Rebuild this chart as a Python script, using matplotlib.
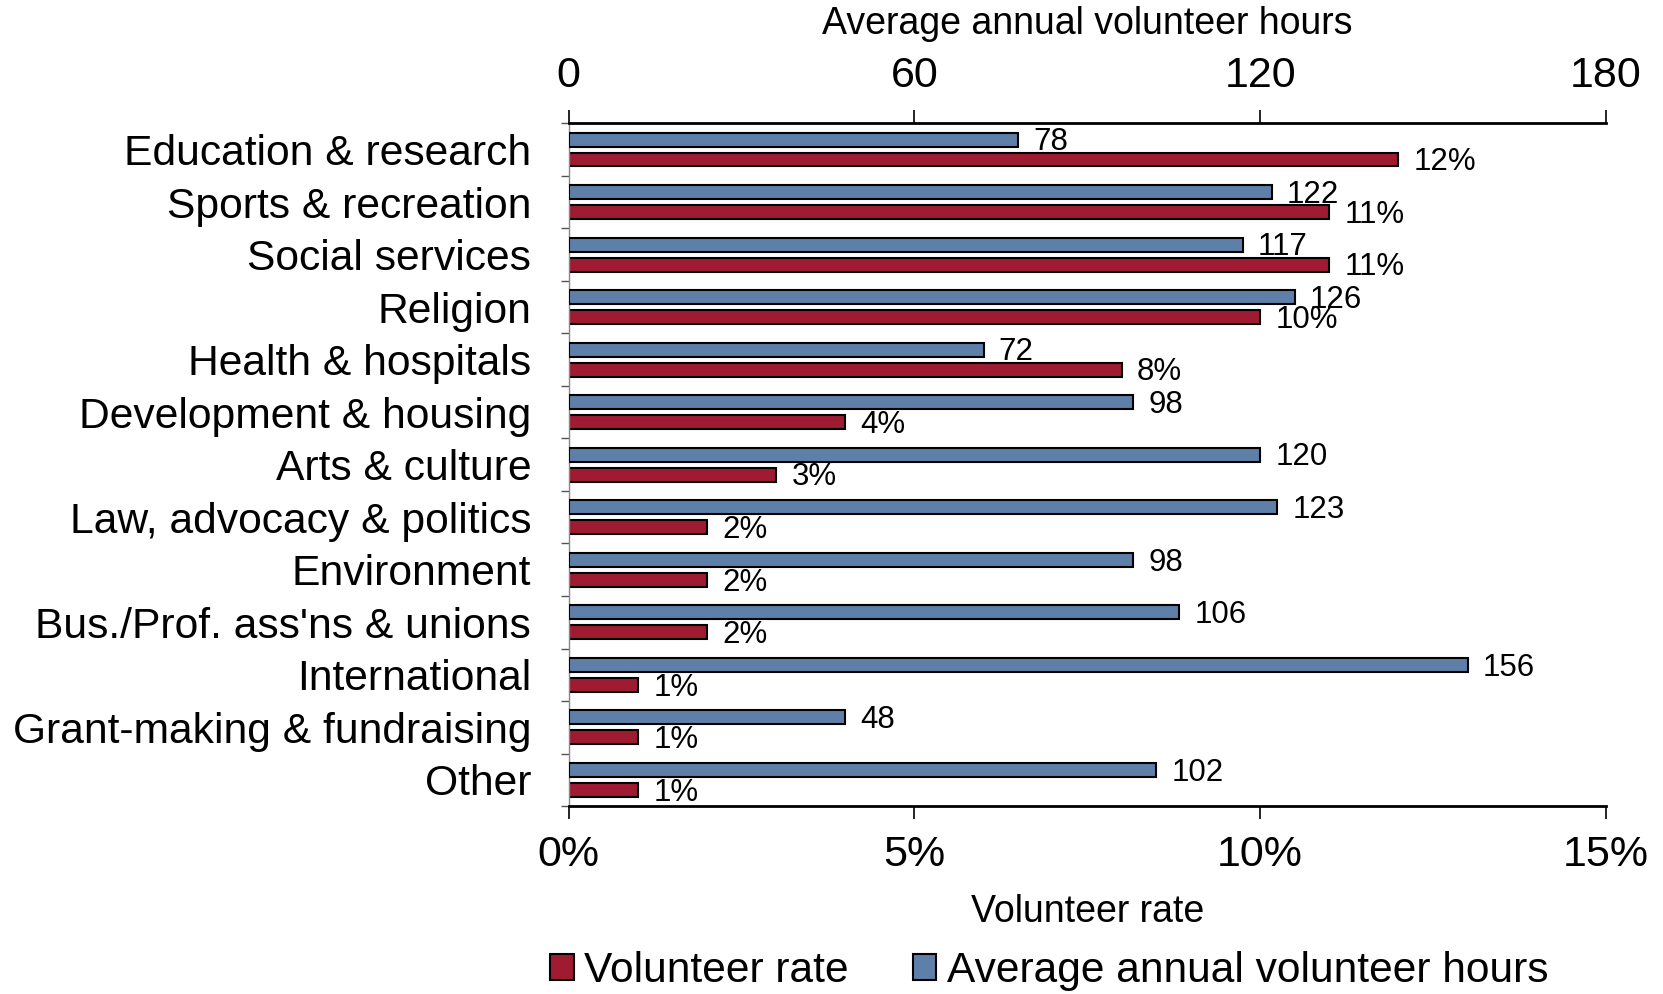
import numpy as np
import matplotlib
matplotlib.use('Agg')
import matplotlib.pyplot as plt
from matplotlib.ticker import FixedLocator

plt.rcParams['font.family'] = ['Liberation Sans', 'DejaVu Sans']

# Data
categories = ['Education & research', 'Sports & recreation', 'Social services',
              'Religion', 'Health & hospitals', 'Development & housing',
              'Arts & culture', 'Law, advocacy & politics', 'Environment',
              "Bus./Prof. ass'ns & unions", 'International',
              'Grant-making & fundraising', 'Other']
rate = [12, 11, 11, 10, 8, 4, 3, 2, 2, 2, 1, 1, 1]
hours = [78, 122, 117, 126, 72, 98, 120, 123, 98, 106, 156, 48, 102]

red = '#9e1b32'
blue = '#5e7fa8'

fig = plt.figure(figsize=(16.63, 9.94), dpi=100)
ax = fig.add_axes([0.342, 0.189, 0.6236, 0.687])
ax2 = ax.twiny()

y = np.arange(len(categories))
h = 0.266
off = 0.19

# volunteer rate on bottom axis
ax.barh(y + off, rate, height=h, color=red, edgecolor='black', linewidth=1.5,
        label='Volunteer rate')
# hours on top axis
ax2.barh(y - off, hours, height=h, color=blue, edgecolor='black', linewidth=1.5,
         label='Average annual volunteer hours')

for yi, v in zip(y, rate):
    ax.annotate(f'{v}%', xy=(v, yi + off), xytext=(11, -2), textcoords='offset points',
                va='center', ha='left', fontsize=22.5)
for yi, v in zip(y, hours):
    ax2.annotate(f'{v}', xy=(v, yi - off), xytext=(11, -2), textcoords='offset points',
                 va='center', ha='left', fontsize=22.5)

ax.set_xlim(0, 15)
ax2.set_xlim(0, 180)
ax.set_ylim(len(categories) - 0.5, -0.5)

ax.set_xticks([0, 5, 10, 15])
ax.set_xticklabels(['0%', '5%', '10%', '15%'])
ax2.set_xticks([0, 60, 120, 180])

ax.set_yticks(y)
ax.set_yticklabels(categories)
ax.yaxis.set_minor_locator(FixedLocator(np.arange(-0.5, len(categories), 1)))
ax.tick_params(axis='y', which='major', length=0, pad=27, labelsize=30.7)
ax.tick_params(axis='y', which='minor', length=6, width=1, color='#555555')
ax.tick_params(axis='x', which='major', length=9.5, width=1.2, pad=11, labelsize=31)
ax2.tick_params(axis='x', which='major', length=9.5, width=1.2, pad=10, labelsize=31)

ax.set_xlabel('Volunteer rate', fontsize=27, labelpad=14)
ax2.set_xlabel('Average annual volunteer hours', fontsize=27, labelpad=16)

for a in (ax, ax2):
    a.spines['right'].set_visible(False)
ax.spines['top'].set_visible(False)
ax2.spines['bottom'].set_visible(False)
ax2.spines['left'].set_visible(False)
ax.spines['bottom'].set_linewidth(2)
ax2.spines['top'].set_linewidth(2)
ax.spines['left'].set_color('#888888')
ax.spines['left'].set_linewidth(1)

handles = [ax.patches[0], ax2.patches[0]]
fig.legend(handles, ['Volunteer rate', 'Average annual volunteer hours'],
           loc='center', bbox_to_anchor=(0.631, 0.023), ncol=2, frameon=False,
           fontsize=30.6, handlelength=0.55, handleheight=0.55, handletextpad=0.25,
           columnspacing=1.5, borderpad=0, borderaxespad=0)

fig.savefig('out.png', dpi=100)
